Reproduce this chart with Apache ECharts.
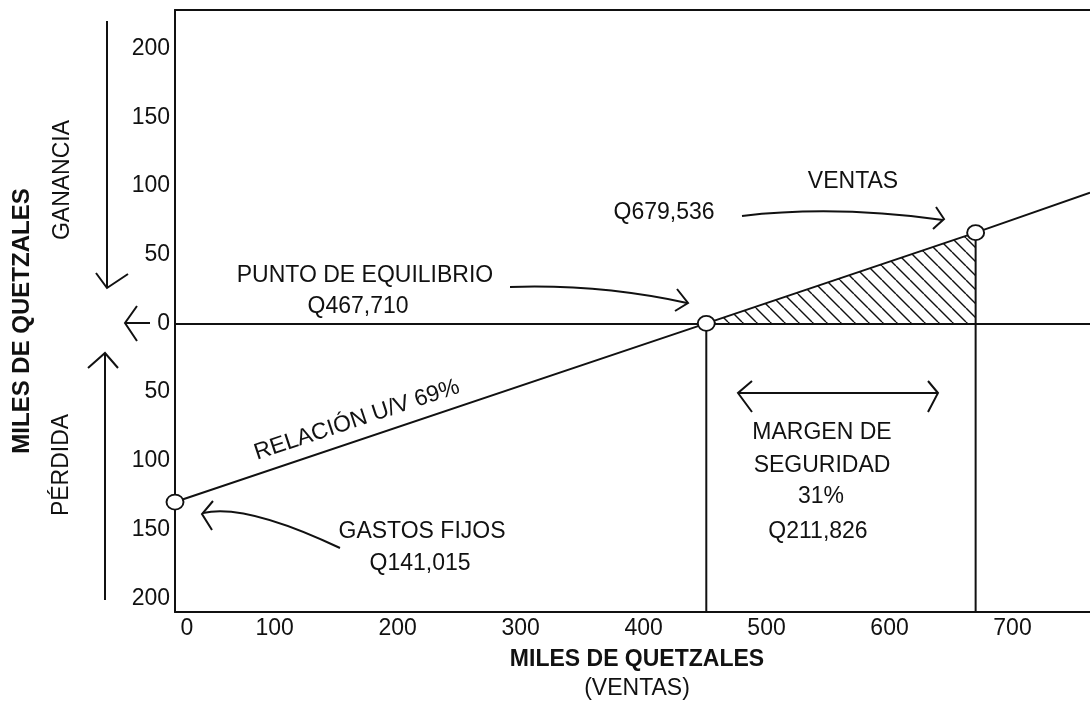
<!DOCTYPE html>
<html>
<head>
<meta charset="utf-8">
<script src="https://cdn.jsdelivr.net/npm/echarts@6/dist/echarts.min.js"></script>
<style>
html,body{margin:0;padding:0;background:#fff;}
#c{width:1090px;height:702px;}
</style>
</head>
<body>
<div id="c"></div>
<script>
// ---- data (in the units of the drawn axes) ----
const X_MIN = 19, X_MAX = 763;          // visible sales range (thousands)
const Y_MIN = -210, Y_MAX = 228;        // loss (negative) / profit (positive)
const xTicks = [0, 100, 200, 300, 400, 500, 600, 700];
const yTicks = [-200, -150, -100, -50, 0, 50, 100, 150, 200];
const lineX = [19, 451, 670, 763];      // gastos fijos, equilibrio, ventas, edge
const lineY = [-130, 0, 66, 95];
const circled = [true, true, true, false];
const breakEvenX = 451;
const salesX = 670, salesY = 66;

const FONT = '"Liberation Sans", Arial, Helvetica, sans-serif';
const INK = '#111';

function hatchPattern() {
  const c = document.createElement('canvas');
  c.width = 14; c.height = 14;
  const g = c.getContext('2d');
  g.strokeStyle = INK; g.lineWidth = 1.4;
  g.beginPath();
  for (const o of [-14, 0, 14]) { g.moveTo(o, 0); g.lineTo(o + 14, 14); }
  g.stroke();
  return c;
}

const xTickValues = xTicks.map(v => Math.max(v, X_MIN));

function txt(x, y, s, size, bold, rot) {
  return {
    type: 'text', x: x, y: y, rotation: rot || 0, z: 20,
    style: {
      text: s, fill: INK, fontSize: size, fontFamily: FONT,
      fontWeight: bold ? 'bold' : 'normal',
      align: 'center', verticalAlign: 'middle',
      textAlign: 'center', textVerticalAlign: 'middle'
    }
  };
}
function pl(points) {
  return { type: 'polyline', z: 20, shape: { points: points },
    style: { stroke: INK, lineWidth: 2, fill: null } };
}
function curve(x1, y1, cx, cy, x2, y2) {
  return { type: 'bezierCurve', z: 20,
    shape: { x1: x1, y1: y1, cpx1: cx, cpy1: cy, x2: x2, y2: y2 },
    style: { stroke: INK, lineWidth: 2, fill: null } };
}

const axisLineStyle = { color: INK, width: 2 };

const option = {
  animation: false,
  backgroundColor: '#fff',
  grid: { left: 175, right: 0, top: 10, bottom: 90, containLabel: false, outerBoundsMode: 'none' },
  xAxis: [{
    type: 'value', min: X_MIN, max: X_MAX, position: 'bottom',
    axisLine: { show: true, onZero: false, lineStyle: axisLineStyle },
    axisTick: { show: false }, splitLine: { show: false },
    axisLabel: {
      customValues: xTickValues, color: INK, fontSize: 23, fontFamily: FONT, margin: 5,
      formatter: v => (v <= X_MIN ? '{z|0}' : String(v)),
      rich: { z: { padding: [0, 0, 0, 24], fontSize: 23, fontFamily: FONT, color: INK } }
    }
  }, {
    type: 'value', min: X_MIN, max: X_MAX, position: 'top',
    axisLine: { show: true, onZero: false, lineStyle: axisLineStyle },
    axisTick: { show: false }, splitLine: { show: false }, axisLabel: { show: false }
  }],
  yAxis: {
    type: 'value', min: Y_MIN, max: Y_MAX,
    axisLine: { show: true, onZero: false, lineStyle: axisLineStyle },
    axisTick: { show: false }, splitLine: { show: false },
    axisLabel: {
      customValues: yTicks, color: INK, fontSize: 23, fontFamily: FONT, margin: 5,
      formatter: v => String(Math.abs(v))
    }
  },
  series: [
    { // hatched margin of safety / profit triangle + zero line
      type: 'line', z: 2, symbol: 'none', silent: true,
      data: [[breakEvenX, 0], [salesX, salesY]],
      lineStyle: { width: 0 },
      areaStyle: { color: { image: hatchPattern(), repeat: 'repeat' }, opacity: 1 },
      markLine: {
        silent: true, symbol: 'none', label: { show: false },
        lineStyle: { color: INK, width: 2, type: 'solid' },
        data: [{ yAxis: 0 }]
      }
    },
    { // vertical at break-even
      type: 'line', z: 3, symbol: 'none', silent: true,
      data: [[breakEvenX, 0], [breakEvenX, Y_MIN]],
      lineStyle: { color: INK, width: 2 }
    },
    { // vertical at sales
      type: 'line', z: 3, symbol: 'none', silent: true,
      data: [[salesX, salesY], [salesX, Y_MIN]],
      lineStyle: { color: INK, width: 2 }
    },
    { // relación U/V line
      type: 'line', z: 5, silent: true,
      data: lineX.map((x, i) => ({ value: [x, lineY[i]], symbol: circled[i] ? 'circle' : 'none' })),
      symbolSize: [17, 15],
      itemStyle: { color: '#fff', borderColor: INK, borderWidth: 1.8 },
      lineStyle: { color: INK, width: 2 }
    }
  ],
  graphic: [
    // left titles
    txt(22, 321, 'MILES DE QUETZALES', 24, true, Math.PI / 2),
    txt(63, 180, 'GANANCIA', 23, false, Math.PI / 2),
    txt(62, 465, 'PÉRDIDA', 23, false, Math.PI / 2),
    // left arrows
    pl([[107, 21], [107, 287]]), pl([[96, 273], [107, 288], [128, 274]]),
    pl([[125, 323], [150, 323]]), pl([[137, 306], [125, 323], [137, 341]]),
    pl([[105, 600], [105, 353]]), pl([[88, 368], [105, 353], [118, 368]]),
    // bottom titles
    txt(637, 660, 'MILES DE QUETZALES', 23, true),
    txt(637, 689, '(VENTAS)', 23, false),
    // annotations
    txt(365, 276, 'PUNTO DE EQUILIBRIO', 23, false),
    txt(358, 307, 'Q467,710', 23, false),
    curve(510, 287, 600, 284, 687, 303), pl([[677, 289], [688, 303], [675, 311]]),
    txt(853, 182, 'VENTAS', 23, false),
    txt(664, 213, 'Q679,536', 23, false),
    curve(742, 216, 835, 205, 943, 220), pl([[936, 207], [944, 219], [933, 229]]),
    txt(357, 420, 'RELACIÓN U/V 69%', 23, false, 0.32),
    txt(422, 532, 'GASTOS FIJOS', 23, false),
    txt(420, 564, 'Q141,015', 23, false),
    curve(340, 548, 245, 503, 203, 513), pl([[213, 501], [202, 514], [212, 530]]),
    pl([[738, 393], [938, 393]]),
    pl([[752, 381], [738, 393], [752, 412]]),
    pl([[928, 381], [938, 393], [928, 412]]),
    txt(822, 433, 'MARGEN DE', 23, false),
    txt(822, 466, 'SEGURIDAD', 23, false),
    txt(821, 497, '31%', 23, false),
    txt(818, 532, 'Q211,826', 23, false)
  ]
};

const chart = echarts.init(document.getElementById('c'), null, { renderer: 'canvas' });
chart.setOption(option);
</script>
</body>
</html>
